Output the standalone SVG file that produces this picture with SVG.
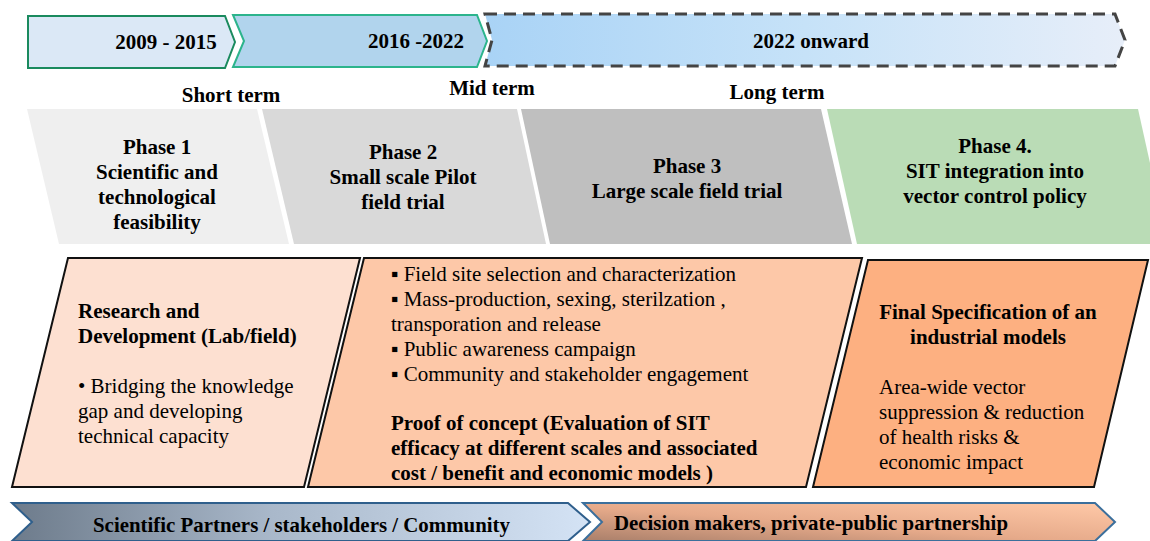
<svg xmlns="http://www.w3.org/2000/svg" width="1150" height="541" viewBox="0 0 1150 541" font-family="'Liberation Serif', 'DejaVu Serif', serif">
<defs>
<linearGradient id="gOnward" x1="0" y1="0" x2="1" y2="0">
<stop offset="0" stop-color="#a9d3f6"/><stop offset="0.5" stop-color="#c6e2f8"/><stop offset="1" stop-color="#e7eef9"/>
</linearGradient>
<linearGradient id="gSci" x1="0" y1="0" x2="1" y2="0">
<stop offset="0" stop-color="#6d7b8b"/><stop offset="0.45" stop-color="#a9b8ca"/><stop offset="1" stop-color="#d4e3f5"/>
</linearGradient>
<linearGradient id="gDec" x1="0" y1="1" x2="1" y2="0">
<stop offset="0" stop-color="#a97f6a"/><stop offset="0.45" stop-color="#e6aa8a"/><stop offset="1" stop-color="#ffc9a8"/>
</linearGradient>
<style>
text{font-family:'Liberation Serif','DejaVu Serif',serif;fill:#000}
.b{font-weight:bold;font-size:21px}
.r{font-size:21px}
.c{text-anchor:middle}
.ph{stroke:none}
.box{stroke:#111;stroke-width:2}
</style>
</defs>

<g id="tl-2009">
<polygon points="28,16 225,16 235,42 225,68 28,68" fill="#dbe8f6" stroke="#1a8a5e" stroke-width="2"/>
<text class="b c" x="166" y="49">2009 - 2015</text>
</g>
<g id="tl-2016">
<polygon points="233,15 477,15 487,41 477,67 233,67 244,41" fill="#b1d4ed" stroke="#2cb48c" stroke-width="2"/>
<text class="b c" x="416" y="48">2016 -2022</text>
</g>
<g id="tl-2022">
<polygon points="485,14 1115,14 1125,40 1115,66 485,66 492,40" fill="url(#gOnward)" stroke="#444" stroke-width="3" stroke-dasharray="12,7"/>
<text class="b c" x="811" y="48">2022 onward</text>
</g>

<g id="term-short"><text class="b c" x="231" y="102">Short term</text></g>
<g id="term-mid"><text class="b c" x="492" y="95">Mid term</text></g>
<g id="term-long"><text class="b c" x="777" y="99">Long term</text></g>

<g id="phase1">
<polygon class="ph" points="27,109 257,109 289,244 59,244" fill="#efefef"/>
<text class="b c" x="157" y="154">Phase 1</text>
<text class="b c" x="157" y="179">Scientific and</text>
<text class="b c" x="157" y="204">technological</text>
<text class="b c" x="157" y="229">feasibility</text>
</g>
<g id="phase2">
<polygon class="ph" points="262,109 517,109 546,244 294,244" fill="#d9d9d9"/>
<text class="b c" x="403" y="159">Phase 2</text>
<text class="b c" x="403" y="184">Small scale Pilot</text>
<text class="b c" x="403" y="209">field trial</text>
</g>
<g id="phase3">
<polygon class="ph" points="521,109 821,109 852,244 550,244" fill="#bfbfbf"/>
<text class="b c" x="687" y="173">Phase 3</text>
<text class="b c" x="687" y="198">Large scale field trial</text>
</g>
<g id="phase4">
<polygon class="ph" points="827,109 1138,109 1168,244 857,244" fill="#badcb6"/>
<text class="b c" x="995" y="153">Phase 4.</text>
<text class="b c" x="995" y="178">SIT integration into</text>
<text class="b c" x="995" y="203">vector control policy</text>
</g>

<g id="box-rd">
<polygon class="box" points="68,258 360,258 304,487 12,487" fill="#fde0d1"/>
<text class="b" x="78" y="318">Research and</text>
<text class="b" x="78" y="343">Development (Lab/field)</text>
<text class="r" x="78" y="393">• Bridging the knowledge</text>
<text class="r" x="78" y="418">gap and developing</text>
<text class="r" x="78" y="443">technical capacity</text>
</g>
<g id="box-poc">
<polygon class="box" points="364,258 862,258 806,487 308,487" fill="#fdc8a8"/>
<text class="r" x="391" y="281">▪ Field site selection and characterization</text>
<text class="r" x="391" y="306">▪ Mass-production, sexing, sterilzation ,</text>
<text class="r" x="391" y="331">transporation and release</text>
<text class="r" x="391" y="356">▪ Public awareness campaign</text>
<text class="r" x="391" y="381">▪ Community and stakeholder engagement</text>
<text class="b" x="391" y="430">Proof of concept (Evaluation of SIT</text>
<text class="b" x="391" y="455">efficacy at different scales and associated</text>
<text class="b" x="391" y="480">cost / benefit and economic models )</text>
</g>
<g id="box-final">
<polygon class="box" points="868,260 1148,260 1094,487 813,487" fill="#fdb081"/>
<text class="b c" x="988" y="319">Final Specification of an</text>
<text class="b c" x="988" y="344">industrial models</text>
<text class="r" x="879" y="394">Area-wide vector</text>
<text class="r" x="879" y="419">suppression &amp; reduction</text>
<text class="r" x="879" y="444">of health risks &amp;</text>
<text class="r" x="879" y="469">economic impact</text>
</g>

<g id="band-sci">
<polygon points="12,503 568,503 590,522 568,541 12,541 32,522" fill="url(#gSci)" stroke="#2f5f8c" stroke-width="2"/>
<text class="b" x="93" y="532" textLength="417" lengthAdjust="spacingAndGlyphs">Scientific Partners / stakeholders / Community</text>
</g>
<g id="band-dec">
<polygon points="583,503 1095,503 1115,522 1095,541 583,541 602,522" fill="url(#gDec)" stroke="#3b6f9c" stroke-width="2"/>
<text class="b" x="614" y="530" textLength="394" lengthAdjust="spacingAndGlyphs">Decision makers, private-public partnership</text>
</g>

<g id="connectors"/>
</svg>
